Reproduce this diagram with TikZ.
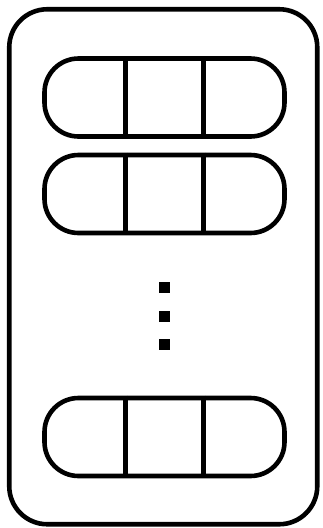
\documentclass[tikz,border=0pt]{standalone}
\usepackage{tikz}
\usetikzlibrary{positioning}

\begin{document}
\begin{tikzpicture}[
  x=1pt, y=-1pt,
  frame/.style={draw, line width=4.6pt, rounded corners=38pt, minimum width=308pt, minimum height=515pt, inner sep=0pt},
  pill/.style={draw, line width=4.6pt, rounded corners=34pt, minimum width=240pt, minimum height=78pt, inner sep=0pt},
  divider/.style={line width=4.4pt},
  dot/.style={fill=black, minimum size=11pt, inner sep=0pt}
]
\useasboundingbox (0,0) rectangle (323,528);

\node[frame] (outer) at (163.25,266.75) {};

\node[pill] (row1) at (164.5,97.5) {};
\node[pill] (row2) at (164.5,194) {};
\node[pill] (row3) at (164.5,437) {};

\draw[divider] ([xshift=-39pt]row1.north) -- ([xshift=-39pt]row1.south);
\draw[divider] ([xshift=39pt]row1.north) -- ([xshift=39pt]row1.south);
\draw[divider] ([xshift=-39pt]row2.north) -- ([xshift=-39pt]row2.south);
\draw[divider] ([xshift=39pt]row2.north) -- ([xshift=39pt]row2.south);
\draw[divider] ([xshift=-39pt]row3.north) -- ([xshift=-39pt]row3.south);
\draw[divider] ([xshift=39pt]row3.north) -- ([xshift=39pt]row3.south);

% vertical ellipsis
\node[dot] (d1) at (164.5,287) {};
\node[dot] (d2) at (164.5,316.5) {};
\node[dot] (d3) at (164.5,344.5) {};

\end{tikzpicture}
\end{document}
